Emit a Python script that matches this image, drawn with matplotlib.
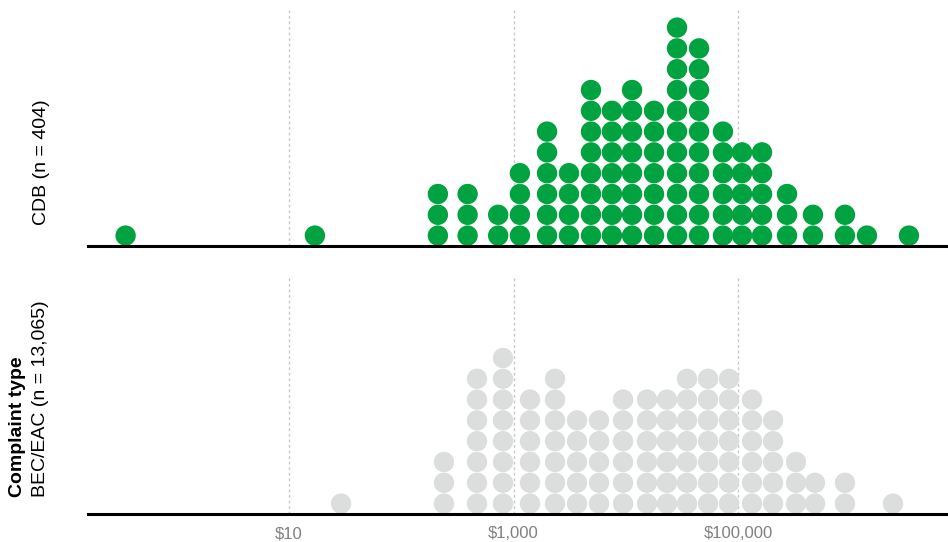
import numpy as np
import matplotlib.pyplot as plt

plt.rcParams['font.family'] = ['Liberation Sans', 'DejaVu Sans']

# dollar loss per bin (bin centre) and number of dots stacked in each bin
cdb_loss = [0.35, 17, 212, 390, 730, 1140, 1990, 3120, 4900, 7530,
            11380, 17860, 28640, 44980, 73460, 108600, 163700, 273500,
            465600, 897500, 1409000, 3334000]
cdb_dots = [1, 1, 3, 3, 2, 4, 6, 4, 8, 7, 8, 7, 11, 10, 6, 5, 5, 3, 2, 2, 1, 1]

bec_loss = [29.1, 240, 473, 806, 1403, 2344, 3681, 5780, 9460, 15460,
            23290, 35120, 54070, 83190, 133400, 205300, 328700, 485700,
            897500, 2404000]
bec_dots = [1, 3, 7, 8, 6, 7, 5, 5, 6, 6, 6, 7, 7, 7, 6, 5, 3, 2, 2, 1]

tick_vals = [10, 1000, 100000]
tick_labels = ['$10', '$1,000', '$100,000']

W, H = 948, 542
ROW = 20.8  # px per stacked dot
XMIN, XMAX = 10 ** -0.791, 10 ** 6.871


def stack(loss, dots):
    xs, ys = [], []
    for v, n in zip(loss, dots):
        xs += [v] * n
        ys += list(np.arange(n) + 0.5)
    return xs, ys


def panel(top, bottom, loss, dots, color, show_ticks):
    ax = fig.add_axes([88 / W, (H - bottom) / H, 860 / W, (bottom - top) / H])
    xs, ys = stack(loss, dots)
    ax.scatter(xs, ys, s=215, color=color, edgecolors='none', zorder=3,
               clip_on=False)
    ax.set_xscale('log')
    ax.set_xlim(XMIN, XMAX)
    ax.set_ylim(0, (bottom - top) / ROW)
    ax.set_xticks(tick_vals)
    ax.minorticks_off()
    ax.set_xticklabels(tick_labels if show_ticks else [])
    ax.tick_params(axis='x', length=0, pad=9, labelsize=12, labelcolor='#808080')
    ax.set_yticks([])
    for s in ['top', 'left', 'right']:
        ax.spines[s].set_visible(False)
    ax.spines['bottom'].set_linewidth(2.2)
    ax.spines['bottom'].set_color('black')
    ax.spines['bottom'].set_zorder(4)
    ax.grid(axis='x', color='#c8c8c8', linestyle=(0, (2, 2)), linewidth=1)
    ax.set_axisbelow(True)
    return ax


fig = plt.figure(figsize=(W / 100, H / 100), dpi=100)

panel(10, 246, cdb_loss, cdb_dots, '#00a33f', False)
panel(275, 514, bec_loss, bec_dots, '#dcdddd', True)

fig.text(41 / W, 1 - 225 / H, 'CDB (n = 404)', rotation=90, fontsize=14,
         ha='center', va='bottom')
fig.text(18 / W, 1 - 497 / H, 'Complaint type', rotation=90, fontsize=14,
         fontweight='bold', ha='center', va='bottom')
fig.text(41 / W, 1 - 497 / H, 'BEC/EAC (n = 13,065)', rotation=90, fontsize=14,
         ha='center', va='bottom')

fig.savefig('out.png', dpi=100)
